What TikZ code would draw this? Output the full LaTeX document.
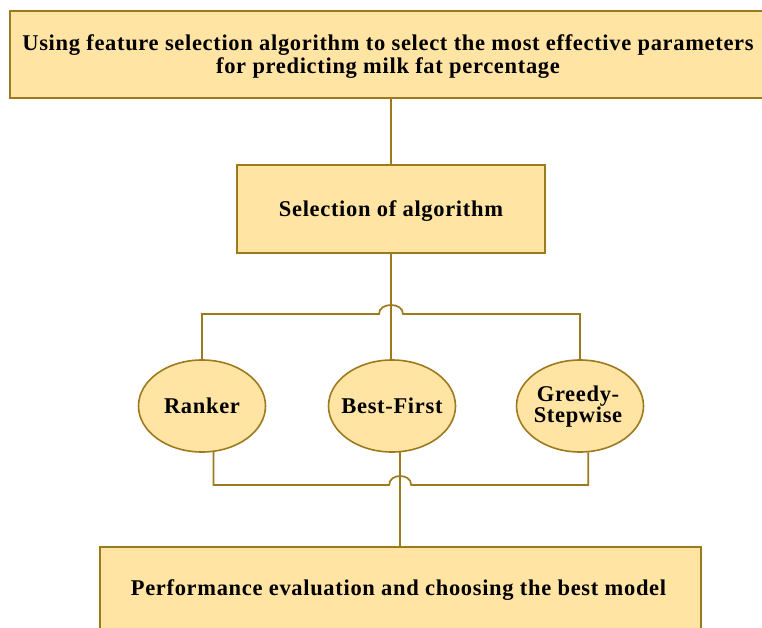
\documentclass[tikz,border=0pt]{standalone}
\usepackage{fontspec}
\setmainfont{Liberation Serif}
\usetikzlibrary{shapes.geometric,calc}
\definecolor{boxfill}{HTML}{FFE4A3}
\definecolor{boxline}{HTML}{9E7A1E}
\tikzset{
  rectbox/.style={draw=boxline, line width=2pt, fill=boxfill, rectangle, inner sep=0pt},
  ellbox/.style={draw=boxline, line width=1.6pt, fill=boxfill, ellipse, inner sep=0pt,
    minimum width=127pt, minimum height=92pt},
  lbl/.style={inner sep=0pt, align=center,
    font=\fontsize{22.5}{23}\selectfont\bfseries\addfontfeature{LetterSpace=3}},
  conn/.style={draw=boxline, line width=1.7pt}
}
\begin{document}
\begin{tikzpicture}[x=1pt,y=-1pt]
\useasboundingbox (0,0) rectangle (762,628);
\node[rectbox, minimum width=756pt, minimum height=87pt] (top) at (388,54.5) {};
\node[lbl] at (top.center) [yshift=-2pt] (toptext)
  {Using feature selection algorithm to select the most effective parameters\\for predicting milk fat percentage};
\node[rectbox, minimum width=308pt, minimum height=88pt] (mid) at (391,209) {};
\node[lbl] at (mid.center) [yshift=-2pt] (midtext) {Selection of algorithm};
\node[ellbox] (ranker) at (202,406) {};
\node[lbl] at (ranker.center) (rankertext) {Ranker};
\node[ellbox] (best) at (392,406) {};
\node[lbl] at (best.center) (besttext) {Best-First};
\node[ellbox] (greedy) at (580,406) {};
\node[lbl, font=\fontsize{22.5}{21}\selectfont\bfseries\addfontfeature{LetterSpace=3}] at (greedy.center) [xshift=-2pt, yshift=-1pt] (greedytext) {Greedy-\\Stepwise};
\node[rectbox, minimum width=601pt, minimum height=86pt] (bottom) at (400.5,590) {};
\node[lbl] at (bottom.center) [xshift=-2pt] (bottomtext) {Performance evaluation and choosing the best model};
% connectors
\draw[conn] (mid.north |- top.south) -- (mid.north);
\coordinate (hA) at (mid.south |- 0,314);
\coordinate (hBc) at (best.-80 |- 0,485);
\draw[conn] (mid.south) -- (mid.south |- best.north);
\draw[conn] (ranker.north) -- (ranker.north |- hA) -- ($(hA)+(-12,0)$)
  .. controls ($(hA)+(-12,-12)$) and ($(hA)+(12,-12)$) .. ($(hA)+(12,0)$)
  -- (greedy.north |- hA) -- (greedy.north);
\draw[conn] (ranker.-76) |- ($(hBc)+(-11,0)$)
  .. controls ($(hBc)+(-11,-12)$) and ($(hBc)+(11,-12)$) .. ($(hBc)+(11,0)$)
  -| (greedy.-80);
\draw[conn] (best.-80) -- (best.-80 |- bottom.north);
\end{tikzpicture}
\end{document}
